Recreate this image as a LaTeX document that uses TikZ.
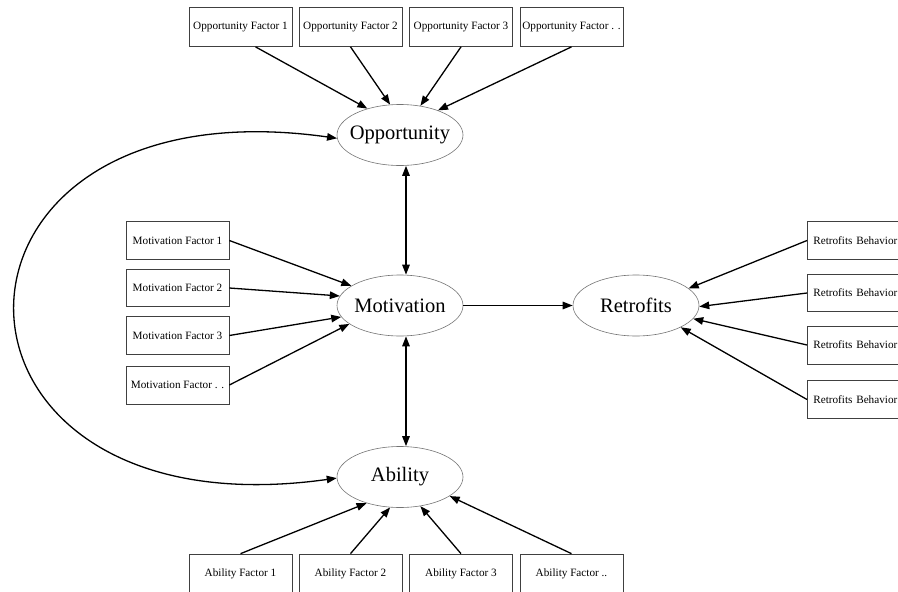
\documentclass[tikz,border=0pt]{standalone}
\usepackage{fontspec}
\setmainfont{Liberation Serif}
\usetikzlibrary{arrows.meta,shapes.geometric}
\begin{document}
\begin{tikzpicture}[x=1pt,y=-1pt,
  fbox/.style={draw=black!75, line width=0.7pt, minimum width=103pt, minimum height=39pt, inner sep=0pt, font=\fontsize{11.2}{13}\selectfont},
  rbox/.style={fbox, anchor=west, text width=97pt, align=left, inner xsep=6pt},
  lat/.style={ellipse, draw=black!55, line width=0.6pt, minimum width=126pt, minimum height=61pt, inner xsep=-6pt, inner ysep=0pt, font=\fontsize{20.5}{24}\selectfont},
  arr/.style={line width=1.3pt, -{Triangle[length=10pt,width=7.5pt]}},
  darr/.style={line width=1.3pt, {Triangle[length=10pt,width=7.5pt]}-{Triangle[length=10pt,width=7.5pt]}}]
\useasboundingbox (0,0) rectangle (898,592);
\clip (0,0) rectangle (898,592);
% latent nodes
\node[lat] (opp) at (400,135) {Opportunity};
\node[lat] (mot) at (400,305.5) {Motivation};
\node[lat] (abl) at (400,477) {Ability};
\node[lat] (ret) at (636,305.5) {Retrofits};
% top boxes
\node[fbox] (o1) at (240.5,27) {Opportunity Factor 1};
\node[fbox] (o2) at (350.5,27) {Opportunity Factor 2};
\node[fbox] (o3) at (461,27) {Opportunity Factor 3};
\node[fbox] (o4) at (571.5,27) {Opportunity Factor . .};
% motivation boxes
\node[fbox,minimum height=38pt] (m1) at (177.5,240.5) {Motivation Factor 1};
\node[fbox,minimum height=37pt] (m2) at (177.5,288) {Motivation Factor 2};
\node[fbox,minimum height=38pt] (m3) at (177.5,335.5) {Motivation Factor 3};
\node[fbox,minimum height=38pt] (m4) at (177.5,385) {Motivation Factor . .};
% retrofit boxes
\node[rbox,minimum height=38pt] (r1) at (807,240.5) {Retrofits Behavior};
\node[rbox,minimum height=37pt] (r2) at (807,293) {Retrofits Behavior};
\node[rbox,minimum height=38pt] (r3) at (807,345) {Retrofits Behavior};
\node[rbox,minimum height=38pt] (r4) at (807,399.5) {Retrofits Behavior};
% ability boxes
\node[fbox,minimum height=40pt] (a1) at (240.5,574) {Ability Factor 1};
\node[fbox,minimum height=40pt] (a2) at (350.5,574) {Ability Factor 2};
\node[fbox,minimum height=40pt] (a3) at (461,574) {Ability Factor 3};
\node[fbox,minimum height=40pt] (a4) at (571.5,574) {Ability Factor ..};
% edges
\draw[arr] ([xshift=15pt]o1.south) -- (opp.141);
\draw[arr] (o2.south) -- (opp.108);
\draw[arr] (o3.south) -- (opp.55);
\draw[arr] (o4.south) -- (opp.33);
\draw[arr] (m1.east) -- (mot.158);
\draw[arr] (m2.east) -- (mot.171);
\draw[arr] (m3.east) -- (mot.191);
\draw[arr] (m4.east) -- (mot.200);
\draw[arr] (r1.west) -- (ret.18);
\draw[arr] (r2.west) -- (ret.-1);
\draw[arr] (r3.west) -- (ret.-13);
\draw[arr] (r4.west) -- (ret.-26);
\draw[arr] (a1.north) -- (abl.218);
\draw[arr] (a2.north) -- (abl.252);
\draw[arr] (a3.north) -- (abl.305);
\draw[arr] (a4.north) -- (abl.339);
\draw[darr] ([xshift=6pt]opp.south) -- ([xshift=6pt]mot.north);
\draw[darr] ([xshift=6pt]mot.south) -- ([xshift=6pt]abl.north);
\draw[arr] (mot) -- (ret);
\draw[darr] (abl.181) .. controls (-91,538) and (-91,78) .. (opp.183);
\end{tikzpicture}
\end{document}
